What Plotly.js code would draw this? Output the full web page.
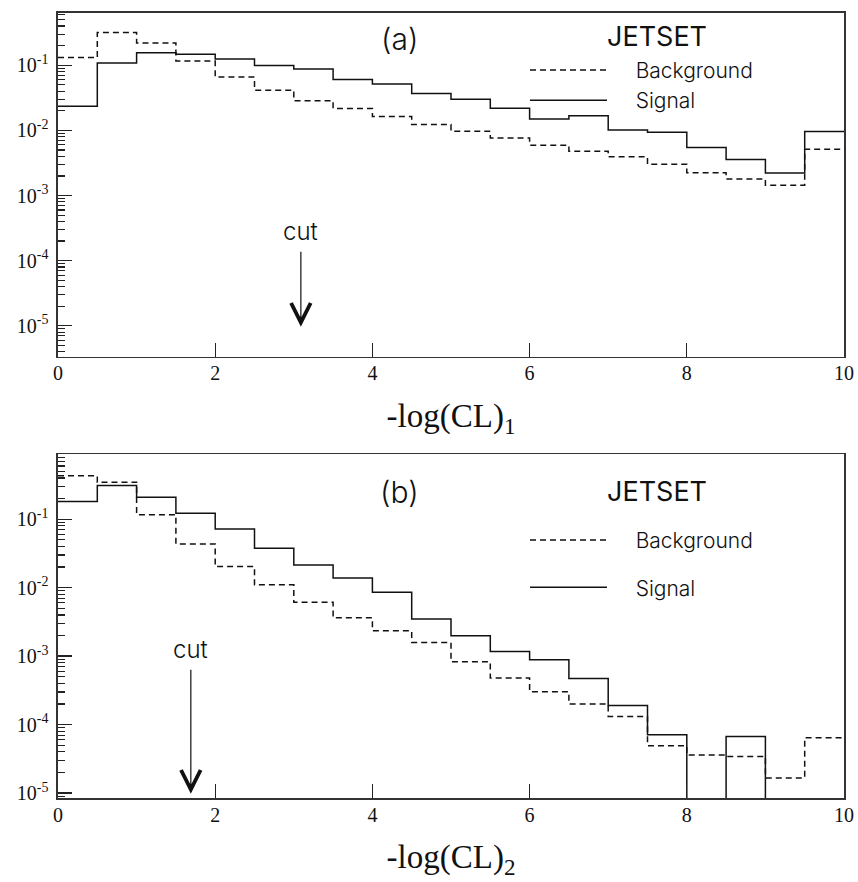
<!DOCTYPE html>
<html><head><meta charset="utf-8">
<script src="https://cdn.plot.ly/plotly-3.0.1.min.js"></script>
<style>html,body{margin:0;padding:0;background:#fff}#chart{width:858px;height:882px}</style>
</head><body><div id="chart"></div>
<script>
// ---- data ----
const binEdges = [0,0.5,1,1.5,2,2.5,3,3.5,4,4.5,5,5.5,6,6.5,7,7.5,8,8.5,9,9.5,10];
const backgroundA = [0.131,0.318,0.22,0.116,0.066,0.0414,0.0284,0.0217,0.0163,0.0123,0.00973,0.00767,0.00593,0.0048,0.00393,0.00303,0.00223,0.00179,0.00144,0.00515];
const signalA     = [0.0235,0.108,0.155,0.148,0.125,0.0989,0.0877,0.0602,0.0516,0.0368,0.0301,0.0219,0.0149,0.0167,0.0101,0.00938,0.00546,0.00357,0.00221,0.00962];
const backgroundB = [0.432,0.347,0.116,0.0436,0.0203,0.011,0.00614,0.00362,0.00234,0.00158,0.000826,0.000478,0.000301,0.000199,0.000131,0.000049,0.0000359,0.0000342,0.0000166,0.0000641];
const signalB     = [0.181,0.31,0.21,0.122,0.0722,0.0377,0.0215,0.0138,0.0086,0.00347,0.00198,0.00117,0.000883,0.000471,0.00019,0.000071,0,0.0000671,0,0];
const cutValues = [3.09, 1.69];
const xTickVals = [0,2,4,6,8,10];
const yTickVals = [1e-5,1e-4,1e-3,1e-2,1e-1];
const yTickText = ['10<sup>-5</sup>','10<sup>-4</sup>','10<sup>-3</sup>','10<sup>-2</sup>','10<sup>-1</sup>'];
const seriesNames = ['Background','Signal'];
const panelLabels = ['(a)','(b)'];
const generatorLabel = 'JETSET';
const xTitles = ['-log(CL)<sub>1</sub>','-log(CL)<sub>2</sub>'];

// ---- helpers ----
const pad = '\u00a0\u00a0\u00a0\u00a0';
function stepTrace(vals, name, dashed, xa, ya, legend, group){
  const y = vals.concat([vals[vals.length-1]]).map(v => v > 0 ? v : 1e-12);
  return {x: binEdges, y: y, type:'scatter', mode:'lines', name: pad + name,
    line:{shape:'hv', color:'#111', width:1.5, dash: dashed ? '6px,4px' : 'solid'},
    xaxis: xa, yaxis: ya, legend: legend, legendgroup: group, hoverinfo:'skip'};
}
const minorVals = [];
for (let e=-7; e<=0; e++) for (let k=2; k<=9; k++) minorVals.push(k*Math.pow(10,e));

const W=858, H=882, L=58, R=14, T=12.7, B=83.7;
const px = x => (x-L)/(W-L-R);
const py = y => (H-B-y)/(H-T-B);

const traces = [
  stepTrace(backgroundA, seriesNames[0], true, 'x','y','legend','bgA'),
  stepTrace(signalA, seriesNames[1], false, 'x','y','legend','sgA'),
  stepTrace(backgroundB, seriesNames[0], true, 'x2','y2','legend2','bgB'),
  stepTrace(signalB, seriesNames[1], false, 'x2','y2','legend2','sgB')
];

const serif = 'Liberation Serif, Times New Roman, serif';
const sans = 'Inter, Lato, DejaVu Sans, sans-serif';
function xAxis(anchor, title){
  return {anchor: anchor, domain:[0,1], range:[0,10], tickmode:'array', tickvals:xTickVals,
    ticks:'inside', ticklen:14, tickwidth:1.4, tickcolor:'#222',
    showline:true, mirror:true, linewidth:1.6, linecolor:'#333', showgrid:false, zeroline:false,
    tickfont:{family:serif, size:20, color:'#111'}, ticklabelstandoff:-2,
    title:{text:title, font:{family:serif, size:33, color:'#111'}, standoff:20}};
}
function yAxis(anchor, domain, range){
  return {anchor: anchor, domain: domain, type:'log', range: range,
    tickmode:'array', tickvals:yTickVals, ticktext:yTickText,
    ticks:'inside', ticklen:14, tickwidth:1.4, tickcolor:'#222',
    minor:{tickmode:'array', tickvals:minorVals, ticks:'inside', ticklen:7, tickwidth:1.2, tickcolor:'#222'},
    showline:true, mirror:true, linewidth:1.6, linecolor:'#333', showgrid:false, zeroline:false,
    tickfont:{family:serif, size:20, color:'#111'}, ticklabelstandoff:4};
}
function legendCfg(yTop, gap){
  return {x: px(525), xanchor:'left', y: py(yTop), yanchor:'top', bgcolor:'rgba(0,0,0,0)', borderwidth:0,
    itemwidth: 77, tracegroupgap: gap, traceorder:'grouped',
    font:{family:sans, size:21, weight:300, color:'#111'}};
}
function cutAnn(xref, xv, tipY, textY){
  return {xref:xref, x:xv, yref:'paper', y:py(tipY), ax:0, ay:textY-tipY, axref:'pixel', ayref:'pixel',
    text:'cut', font:{family:sans, size:24, weight:300, color:'#111'},
    showarrow:true, arrowhead:5, arrowsize:3.2, arrowwidth:1.2, arrowcolor:'#111', startstandoff:4};
}
function label(xp, yp, text, size, weight){
  return {xref:'paper', yref:'paper', x:px(xp), y:py(yp), xanchor:'center', yanchor:'middle',
    text:text, showarrow:false, font:{family:sans, size:size, weight:weight, color:'#111'}};
}

const layout = {
  width:W, height:H, margin:{l:L, r:R, t:T, b:B, pad:0},
  paper_bgcolor:'#fff', plot_bgcolor:'#fff', showlegend:true,
  xaxis: xAxis('y', xTitles[0]),
  yaxis: yAxis('x', [py(356.7), 1], [-5.475, -0.198]),
  xaxis2: xAxis('y2', xTitles[1]),
  yaxis2: yAxis('x2', [0, py(454.3)], [-5.073, -0.051]),
  legend: legendCfg(49.5, 0),
  legend2: legendCfg(520, 17),
  annotations: [
    label(399, 39, panelLabels[0], 30, 300),
    label(657, 36, generatorLabel, 27, 400),
    label(399, 492, panelLabels[1], 30, 300),
    label(657, 492, generatorLabel, 27, 400),
    cutAnn('x', cutValues[0], 326.7, 231.7),
    cutAnn('x2', cutValues[1], 794, 650)
  ]
};
Plotly.newPlot('chart', traces, layout, {displayModeBar:false, staticPlot:true});
</script></body></html>
